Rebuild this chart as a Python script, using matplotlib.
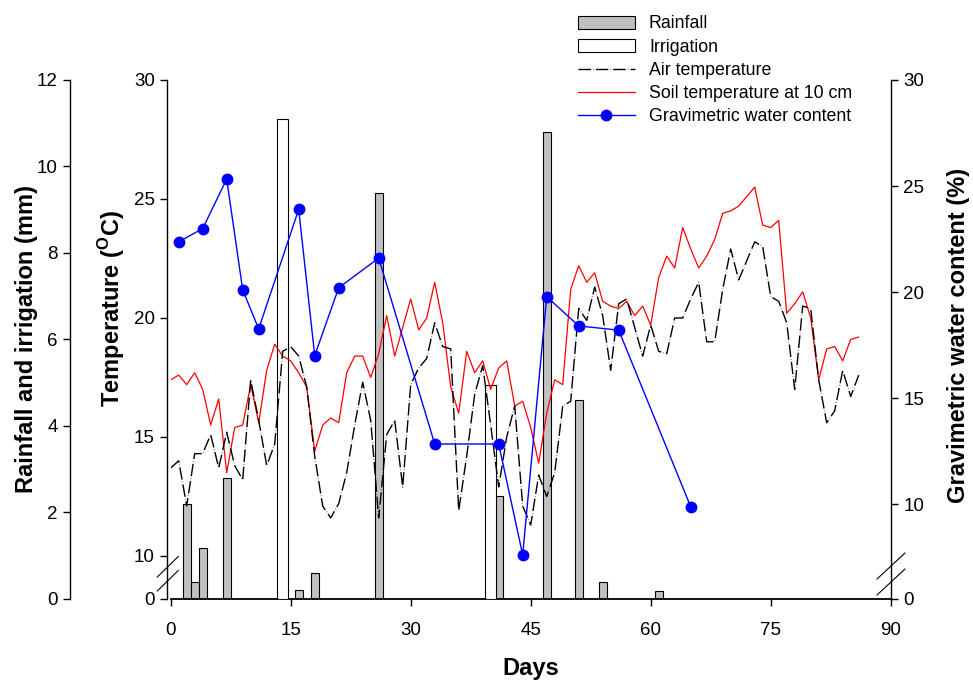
import numpy as np
import matplotlib
matplotlib.use('Agg')
import matplotlib.pyplot as plt
from matplotlib.patches import Patch
from matplotlib.lines import Line2D

plt.rcParams['font.family'] = ['Liberation Sans', 'DejaVu Sans']
plt.rcParams['mathtext.fontset'] = 'custom'
plt.rcParams['mathtext.rm'] = 'Liberation Sans'
plt.rcParams['mathtext.bf'] = 'Liberation Sans:bold'

# ---------------- data ----------------
days = list(range(0, 87))
air_temp = [13.7, 14.0, 12.1, 14.3, 14.3, 15.1, 13.7, 15.2, 13.8, 13.2,
            17.4, 15.7, 13.8, 14.7, 18.6, 18.8, 18.4, 17.1, 14.2, 12.1,
            11.6, 12.2, 13.5, 15.5, 17.3, 15.7, 11.6, 15.1, 15.7, 12.9,
            17.2, 17.9, 18.3, 19.8, 18.8, 18.7, 11.9, 14.2, 16.8, 18.0,
            15.5, 12.9, 15.0, 16.3, 12.1, 11.3, 13.4, 12.5, 13.5, 16.3,
            16.5, 20.4, 19.9, 21.3, 20.1, 17.8, 20.6, 20.8, 19.6, 18.4,
            19.7, 18.6, 18.5, 20.0, 20.0, 20.8, 21.5, 19.0, 19.0, 21.2,
            22.9, 21.6, 22.4, 23.2, 23.0, 20.9, 20.7, 19.8, 17.0, 20.5,
            20.4, 17.4, 15.6, 16.1, 17.8, 16.7, 17.6]
soil_temp = [17.4, 17.6, 17.2, 17.7, 17.0, 15.5, 16.6, 13.5, 15.4, 15.5,
             17.2, 15.6, 17.8, 18.9, 18.4, 18.2, 17.7, 17.1, 14.4, 15.5,
             15.8, 15.6, 17.7, 18.4, 18.4, 17.5, 18.5, 20.1, 18.4, 19.6,
             20.8, 19.5, 20.0, 21.5, 19.8, 17.1, 16.0, 18.6, 17.7, 18.2,
             17.0, 17.9, 18.2, 16.3, 16.5, 15.4, 13.9, 16.0, 17.4, 17.2,
             21.2, 22.2, 21.5, 21.9, 20.7, 20.5, 20.4, 20.7, 20.1, 20.5,
             19.7, 21.7, 22.6, 22.1, 23.8, 22.9, 22.1, 22.6, 23.3, 24.4,
             24.5, 24.7, 25.1, 25.5, 23.9, 23.8, 24.1, 20.2, 20.6, 21.1,
             20.0, 17.4, 18.7, 18.8, 18.2, 19.1, 19.2]
rain_days = [2, 3, 4, 7, 16, 18, 26, 41, 47, 51, 54, 61]
rain_mm = [2.18, 0.39, 1.18, 2.79, 0.20, 0.60, 9.39, 2.38, 10.79, 4.59, 0.39, 0.18]
irr_days = [14, 40]
irr_mm = [11.1, 4.94]
gwc_days = [1, 4, 7, 9, 11, 16, 18, 21, 26, 33, 41, 44, 47, 51, 56, 65]
gwc = [22.37, 22.99, 25.33, 20.1, 18.26, 23.9, 17.0, 20.2, 21.6,
       12.83, 12.83, 7.6, 19.78, 18.4, 18.2, 9.87]

x_ticks = [0, 15, 30, 45, 60, 75, 90]
rain_ticks = [0, 2, 4, 6, 8, 10, 12]
temp_ticks = [0, 10, 15, 20, 25, 30]
gwc_ticks = [0, 10, 15, 20, 25, 30]


def break_scale(b, k):
    def fwd(v):
        v = np.asarray(v, float)
        return np.where(v >= b, v, b - (b - v) * k)

    def inv(u):
        u = np.asarray(u, float)
        return np.where(u >= b, u, b - (b - u) / k)
    return fwd, inv


W, H = 973, 682
L, R, T, B = 170.7, 890.7, 80.0, 598.5
fig = plt.figure(figsize=(W / 100, H / 100), dpi=100)
ax = fig.add_axes([L / W, 1 - B / H, (R - L) / W, (B - T) / H])
axT = ax.twinx()
axW = ax.twinx()

tick_kw = dict(direction='out', length=5, width=1.0, labelsize=13.5, colors='black')
air_dash = (9, 1.6, 0.3, 1.6)

# rainfall / irrigation axis
ax.bar(rain_days, rain_mm, width=1.0, color='#c0c0c0', edgecolor='black', linewidth=0.8, zorder=2)
ax.bar(irr_days, irr_mm, width=1.33, color='white', edgecolor='black', linewidth=0.8, zorder=3)
ax.set_xlim(0, 90)
ax.set_ylim(0, 12)
ax.set_xticks(x_ticks)
ax.set_yticks(rain_ticks)
ax.spines['top'].set_visible(False)
ax.spines['right'].set_visible(False)
ax.spines['left'].set_position(('outward', (L - 69.5) * 0.72))
for s in ax.spines.values():
    s.set_linewidth(1.0)
ax.spines['bottom'].set_linewidth(1.3)
ax.tick_params(axis='y', pad=3.5, **tick_kw)
ax.tick_params(axis='x', pad=12, **tick_kw)

# temperature axis
axT.set_yscale('function', functions=break_scale(10, 0.1786))
axT.plot(days, soil_temp, color='#ff0000', lw=0.9, zorder=3)
axT.plot(days, air_temp, color='black', lw=1.0, dashes=air_dash, zorder=4)
axT.set_ylim(0, 30)
axT.set_yticks(temp_ticks)
axT.yaxis.tick_left()
for side in ['top', 'right', 'bottom']:
    axT.spines[side].set_visible(False)
axT.spines['left'].set_visible(True)
axT.spines['left'].set_position(('outward', 3.4 * 0.72))
axT.spines['left'].set_linewidth(1.0)
axT.tick_params(axis='y', pad=4, **tick_kw)

# gravimetric water content axis
axW.set_yscale('function', functions=break_scale(7, 0.2082))
axW.plot(gwc_days, gwc, '-o', color='#0000ff', lw=1.0, ms=7.5, zorder=5)
axW.set_ylim(0, 30)
axW.set_yticks(gwc_ticks)
for side in ['top', 'left', 'bottom']:
    axW.spines[side].set_visible(False)
axW.spines['right'].set_linewidth(1.0)
axW.tick_params(axis='y', pad=4, **tick_kw)


def px(x, y):
    return (x / W, 1 - y / H)


# axis break marks
for (x0, y0, x1, y1) in [(157.3, 577, 178.3, 556.5), (157.3, 591, 178.3, 570.5),
                         (877, 579, 905, 553), (877, 595, 905, 569)]:
    a, b_ = px(x0, y0)
    c, d = px(x1, y1)
    fig.add_artist(Line2D([a, c], [b_, d], transform=fig.transFigure, color='black', lw=0.8))

lab_kw = dict(fontsize=17, fontweight='bold', ha='center', va='center')
fig.text(*px(27, 339), 'Rainfall and irrigation (mm)', rotation=90, **lab_kw)
fig.text(*px(112, 308), r'Temperature ($^{\mathbf{O}}$C)', rotation=90, **lab_kw)
fig.text(*px(958, 335), 'Gravimetric water content (%)', rotation=90, **lab_kw)
fig.text(*px(531, 668), 'Days', **lab_kw)

handles = [Patch(facecolor='#c0c0c0', edgecolor='black', linewidth=0.8),
           Patch(facecolor='white', edgecolor='black', linewidth=0.8),
           Line2D([], [], color='black', lw=1.0, dashes=air_dash),
           Line2D([], [], color='#ff0000', lw=0.9),
           Line2D([], [], color='#0000ff', lw=1.0, marker='o', ms=7.5)]
labels = ['Rainfall', 'Irrigation', 'Air temperature', 'Soil temperature at 10 cm',
          'Gravimetric water content']
fig.legend(handles, labels, loc='upper left', bbox_to_anchor=px(578, 15.5),
           frameon=False, fontsize=12.8, handlelength=3.2, handletextpad=0.79,
           labelspacing=0.35, borderpad=0, borderaxespad=0)

fig.savefig('out.png', dpi=100)
